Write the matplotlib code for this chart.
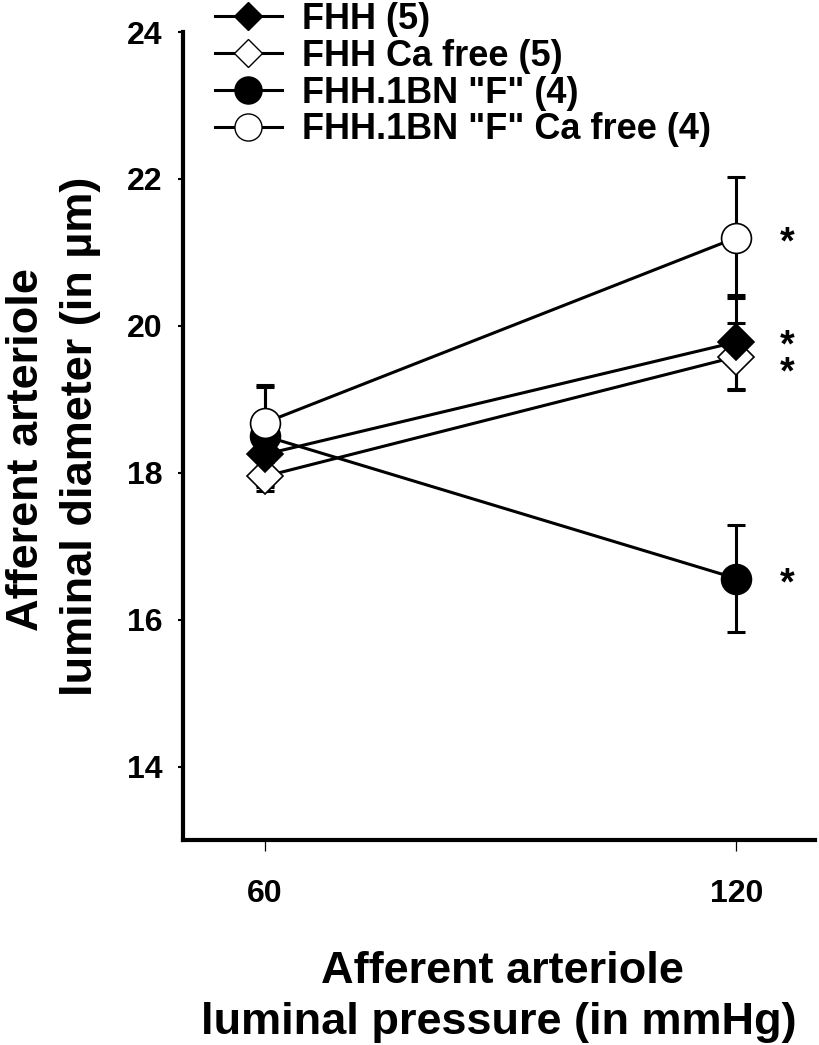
import matplotlib
matplotlib.use("Agg")
import matplotlib.pyplot as plt
from matplotlib.lines import Line2D

plt.rcParams['font.family'] = ['Liberation Sans', 'DejaVu Sans']
plt.rcParams['font.weight'] = 'bold'

# ---- data ----
pressure = [60, 120]
fhh = [18.25, 19.78]
fhh_err = [0.45, 0.64]
fhh_ca = [17.95, 19.58]
fhh_ca_err = [0.20, 0.46]
f1bn = [18.50, 16.56]
f1bn_err = [0.67, 0.73]
f1bn_ca = [18.68, 21.20]
f1bn_ca_err = [0.52, 0.82]

labels = ['FHH (5)', 'FHH Ca free (5)', 'FHH.1BN "F" (4)', 'FHH.1BN "F" Ca free (4)']
star_y = [21.12, 19.72, 19.35, 16.48]
xticks = [60, 120]
yticks = [14, 16, 18, 20, 22, 24]

W, H = 820, 1045
fig = plt.figure(figsize=(W / 100, H / 100), dpi=100)
ax = fig.add_axes([183 / W, 1 - 840 / H, (815 - 183) / W, (840 - 32) / H])

series = [
    (fhh, fhh_err, 'D', 'black', 18.0, 5),
    (fhh_ca, fhh_ca_err, 'D', 'white', 18.0, 4),
    (f1bn, f1bn_err, 'o', 'black', 21.5, 6),
    (f1bn_ca, f1bn_ca_err, 'o', 'white', 21.5, 7),
]

for y, e, m, fc, ms, z in series:
    ax.errorbar(pressure, y, yerr=e, fmt='none', ecolor='black', elinewidth=2.2,
                capsize=6.5, capthick=2.2, zorder=2)
    ax.plot(pressure, y, '-', color='black', lw=2.2, zorder=3)

for y, e, m, fc, ms, z in series:
    ax.plot(pressure, y, linestyle='none', marker=m, markersize=ms,
            markerfacecolor=fc, markeredgecolor='black', markeredgewidth=1.2, zorder=z)

for sy in star_y:
    ax.text(126.4, sy, '*', fontsize=27, fontweight='bold', ha='center', va='center',
            zorder=8)

ax.set_xlim(49.6, 130)
ax.set_ylim(13, 24)
ax.set_xticks(xticks)
ax.set_yticks(yticks)
ax.set_xticklabels([str(v) for v in xticks], fontsize=23, fontweight='bold')
ax.set_yticklabels([str(v) for v in yticks], fontsize=23, fontweight='bold')
ax.tick_params(axis='x', direction='out', length=8, width=0.9, pad=20)
ax.tick_params(axis='y', direction='out', length=3.5, width=1.5, pad=11)
for s in ['top', 'right']:
    ax.spines[s].set_visible(False)
for s in ['left', 'bottom']:
    ax.spines[s].set_linewidth(3.0)

# axis labels (two lines each)
fig.text(38 / W, 1 - 450 / H, 'Afferent arteriole', rotation=90, rotation_mode='anchor',
         ha='center', va='baseline', fontsize=32.5, fontweight='bold')
fig.text(92 / W, 1 - 436 / H, 'luminal diameter (in µm)', rotation=90, rotation_mode='anchor',
         ha='center', va='baseline', fontsize=32.5, fontweight='bold')
fig.text(502 / W, 1 - 983 / H, 'Afferent arteriole', ha='center', va='baseline',
         fontsize=32.5, fontweight='bold')
fig.text(499 / W, 1 - 1034 / H, 'luminal pressure (in mmHg)', ha='center', va='baseline',
         fontsize=32.5, fontweight='bold')

# legend
handles = [
    Line2D([], [], color='black', lw=2.2, marker='D', markersize=14.5,
           markerfacecolor='black', markeredgecolor='black', markeredgewidth=1.0),
    Line2D([], [], color='black', lw=2.2, marker='D', markersize=14.5,
           markerfacecolor='white', markeredgecolor='black', markeredgewidth=1.0),
    Line2D([], [], color='black', lw=2.2, marker='o', markersize=19.5,
           markerfacecolor='black', markeredgecolor='black', markeredgewidth=1.0),
    Line2D([], [], color='black', lw=2.2, marker='o', markersize=19.5,
           markerfacecolor='white', markeredgecolor='black', markeredgewidth=1.0),
]
fig.legend(handles, labels, loc='upper left', bbox_to_anchor=(215 / W, 1 - 2 / H),
           frameon=False, borderpad=0, borderaxespad=0, handlelength=1.85,
           handletextpad=0.55, labelspacing=0.05,
           prop={'size': 26, 'weight': 'bold'})

fig.savefig('out.png', dpi=100)
